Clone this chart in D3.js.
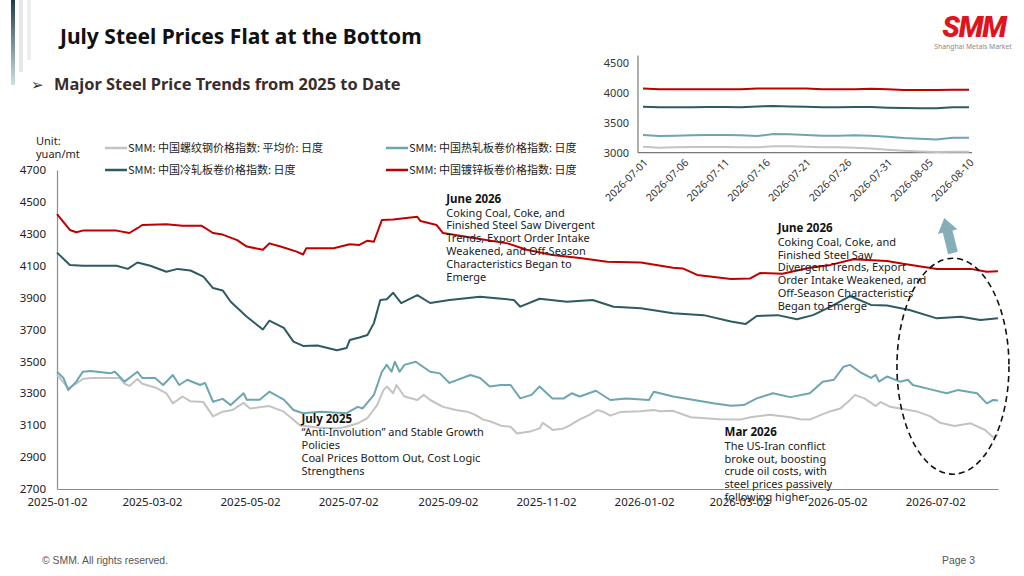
<!DOCTYPE html>
<html>
<head>
<meta charset="utf-8">
<script src="https://cdn.jsdelivr.net/npm/d3@7"></script>
<style>
  body { margin: 0; background: #fff; }
  svg { display: block; font-family: "Noto Sans", "Noto Sans CJK SC", sans-serif; }
</style>
</head>
<body>
<svg id="chart" width="1024" height="576"></svg>
<script>
// ---- data (days counted from 2025-01-02) ----
const seriesNames = [
  'SMM: 中国螺纹钢价格指数: 平均价: 日度',
  'SMM: 中国热轧板卷价格指数: 日度',
  'SMM: 中国冷轧板卷价格指数: 日度',
  'SMM: 中国镀锌板卷价格指数: 日度'
];

const rebar = [[0,3415],[7,3333],[12,3360],[16,3390],[21,3396],[39,3396],[42,3360],[45,3346],[50,3390],[53,3360],[62,3333],[68,3300],[72,3237],[78,3280],[83,3250],[91,3245],[97,3155],[103,3185],[109,3195],[116,3240],[120,3205],[128,3215],[132,3220],[141,3185],[151,3100],[162,3085],[174,3080],[180,3090],[187,3112],[193,3145],[199,3226],[203,3320],[205,3343],[209,3300],[211,3352],[216,3280],[224,3258],[228,3290],[232,3258],[240,3215],[248,3195],[255,3185],[260,3165],[265,3135],[269,3125],[276,3097],[282,3090],[286,3048],[294,3060],[300,3080],[302,3115],[307,3080],[308,3070],[315,3080],[319,3100],[325,3137],[331,3165],[336,3195],[340,3182],[344,3160],[350,3182],[363,3188],[371,3195],[375,3188],[383,3190],[394,3150],[412,3137],[425,3135],[431,3150],[443,3165],[456,3150],[462,3137],[468,3135],[475,3165],[481,3188],[487,3205],[493,3258],[496,3290],[502,3268],[509,3220],[512,3245],[518,3215],[524,3205],[534,3188],[543,3155],[549,3115],[558,3095],[568,3112],[577,3070],[582,3025],[585,3040]];

const hrc = [[0,3435],[4,3396],[7,3320],[12,3373],[16,3435],[21,3440],[33,3425],[36,3435],[42,3373],[50,3435],[53,3396],[61,3396],[66,3352],[72,3415],[76,3352],[81,3385],[89,3352],[92,3365],[97,3247],[103,3265],[108,3226],[116,3300],[118,3260],[126,3260],[132,3310],[141,3260],[147,3195],[153,3175],[164,3185],[180,3175],[187,3215],[190,3205],[197,3290],[202,3435],[205,3478],[208,3435],[210,3498],[213,3435],[216,3478],[223,3498],[232,3435],[238,3425],[244,3365],[257,3415],[263,3396],[269,3343],[276,3352],[282,3352],[288,3268],[295,3290],[300,3343],[308,3268],[315,3268],[320,3300],[325,3280],[335,3316],[344,3258],[354,3268],[368,3258],[371,3310],[383,3280],[396,3258],[408,3237],[419,3222],[427,3226],[435,3268],[445,3300],[456,3276],[468,3300],[476,3373],[483,3385],[489,3467],[493,3478],[499,3435],[506,3396],[509,3415],[511,3373],[516,3405],[524,3373],[529,3385],[532,3352],[545,3320],[553,3300],[560,3320],[572,3300],[578,3237],[582,3258],[585,3255]];

const crc = [[0,4182],[8,4105],[16,4100],[37,4100],[44,4080],[50,4120],[58,4100],[68,4062],[75,4080],[83,4070],[91,4032],[97,3960],[103,3945],[108,3874],[118,3780],[128,3700],[132,3755],[141,3710],[147,3624],[153,3597],[162,3600],[174,3570],[180,3584],[182,3634],[188,3650],[193,3665],[197,3740],[201,3885],[205,3890],[209,3930],[214,3866],[224,3916],[232,3866],[244,3885],[263,3906],[284,3885],[288,3843],[300,3893],[317,3874],[333,3885],[346,3843],[363,3833],[383,3802],[402,3790],[419,3750],[428,3734],[435,3785],[448,3790],[460,3764],[470,3790],[481,3843],[493,3910],[506,3854],[516,3850],[530,3822],[547,3770],[562,3780],[574,3760],[585,3770]];

const galv = [[0,4424],[8,4324],[12,4310],[16,4320],[37,4320],[45,4305],[50,4335],[53,4355],[68,4360],[78,4350],[90,4350],[97,4305],[103,4295],[112,4260],[118,4220],[128,4200],[132,4240],[139,4220],[149,4188],[153,4170],[155,4210],[172,4210],[182,4235],[188,4230],[193,4257],[197,4250],[199,4305],[202,4387],[209,4390],[224,4407],[226,4380],[236,4355],[240,4305],[259,4273],[280,4240],[292,4200],[308,4167],[325,4148],[342,4125],[363,4120],[383,4087],[389,4083],[398,4042],[419,4017],[431,4020],[437,4054],[451,4050],[468,4087],[481,4105],[495,4140],[516,4130],[526,4112],[547,4080],[568,4080],[578,4062],[585,4065]];

const yTicks = [2700, 2900, 3100, 3300, 3500, 3700, 3900, 4100, 4300, 4500, 4700];
const xTickLabels = ['2025-01-02','2025-03-02','2025-05-02','2025-07-02','2025-09-02','2025-11-02','2026-01-02','2026-03-02','2026-05-02','2026-07-02'];

// inset: July-August 2026
const insetDates = ['2026-07-01','2026-07-03','2026-07-05','2026-07-07','2026-07-09','2026-07-11','2026-07-13','2026-07-15','2026-07-17','2026-07-19','2026-07-21','2026-07-23','2026-07-25','2026-07-27','2026-07-29','2026-07-31','2026-08-02','2026-08-04','2026-08-06','2026-08-08','2026-08-10'];
const rebarIn = [3100,3083,3089,3094,3094,3094,3089,3089,3106,3106,3100,3089,3089,3083,3072,3050,3033,3022,3011,3017,3017];
const hrcIn   = [3294,3278,3283,3289,3294,3294,3289,3278,3311,3306,3294,3283,3283,3289,3283,3267,3244,3233,3222,3250,3250];
const crcIn   = [3767,3756,3756,3756,3761,3761,3756,3772,3778,3772,3767,3756,3756,3761,3761,3750,3744,3739,3739,3756,3756];
const galvIn  = [4072,4056,4056,4056,4056,4056,4056,4072,4072,4072,4072,4056,4056,4056,4067,4056,4044,4044,4044,4050,4050];
const insetYTicks = [3000, 3500, 4000, 4500];
const insetXTicks = ['2026-07-01','2026-07-06','2026-07-11','2026-07-16','2026-07-21','2026-07-26','2026-07-31','2026-08-05','2026-08-10'];

const notes = [
  { date: '2025-06-03', value: 3115, title: 'July 2025', lines: ['“Anti-Involution” and Stable Growth', 'Policies', 'Coal Prices Bottom Out, Cost Logic', 'Strengthens'] },
  { date: '2025-09-01', value: 4492, title: 'June 2026', lines: ['Coking Coal, Coke, and', 'Finished Steel Saw Divergent', 'Trends, Export Order Intake', 'Weakened, and Off-Season', 'Characteristics Began to', 'Emerge'] },
  { date: '2026-03-26', value: 4310, title: 'June 2026', lines: ['Coking Coal, Coke, and', 'Finished Steel Saw', 'Divergent Trends, Export', 'Order Intake Weakened, and', 'Off-Season Characteristics', 'Began to Emerge'] },
  { date: '2026-02-21', value: 3030, title: 'Mar 2026', lines: ['The US-Iran conflict', 'broke out, boosting', 'crude oil costs, with', 'steel prices passively', 'following higher'] }
];

const colors = ['#c3c3c3', '#6da5b1', '#2e5a62', '#c00000'];

// ---- setup ----
const svg = d3.select('#chart');
const parse = d3.timeParse('%Y-%m-%d');
const start = parse('2025-01-02');
const toPoints = arr => arr.map(d => ({ date: d3.timeDay.offset(start, d[0]), value: d[1] }));
const mainSeries = [rebar, hrc, crc, galv].map(toPoints);

// decorative bars top-left
const grad = svg.append('defs').append('linearGradient')
  .attr('id', 'barGrad').attr('x1', 0).attr('y1', 0).attr('x2', 0).attr('y2', 1);
grad.append('stop').attr('offset', '0%').attr('stop-color', '#1f3f47');
grad.append('stop').attr('offset', '100%').attr('stop-color', '#cfe0e4');
svg.append('rect').attr('x', 11).attr('y', 0).attr('width', 4).attr('height', 85).attr('fill', 'url(#barGrad)');
svg.append('rect').attr('x', 19).attr('y', 0).attr('width', 4).attr('height', 72).attr('fill', '#e6e6e6');
svg.append('rect').attr('x', 27).attr('y', 0).attr('width', 4).attr('height', 60).attr('fill', '#eeeeee');

// titles
svg.append('text')
  .attr('x', 60).attr('y', 44)
  .attr('font-size', 21).attr('font-weight', 700).attr('fill', '#111')
  .text('July Steel Prices Flat at the Bottom');

svg.append('text')
  .attr('x', 31).attr('y', 90)
  .attr('font-size', 15).attr('fill', '#333')
  .attr('font-family', '"DejaVu Sans", sans-serif')
  .text('➢');
svg.append('text')
  .attr('x', 54).attr('y', 90)
  .attr('font-size', 16.4).attr('font-weight', 700).attr('fill', '#3a2c2c')
  .text('Major Steel Price Trends from 2025 to Date');

// logo
svg.append('text')
  .attr('x', 974).attr('y', 37)
  .attr('text-anchor', 'middle')
  .attr('font-size', 29).attr('font-weight', 900).attr('font-style', 'italic')
  .attr('letter-spacing', -1.2)
  .attr('fill', '#e0141e')
  .attr('font-family', 'Roboto, "Noto Sans", sans-serif')
  .text('SMM');
svg.append('text')
  .attr('x', 973).attr('y', 49)
  .attr('text-anchor', 'middle')
  .attr('font-size', 6.8).attr('fill', '#888')
  .text('Shanghai Metals Market');

// ---- main chart ----
const x = d3.scaleTime()
  .domain([start, d3.timeDay.offset(start, 585)])
  .range([57, 998]);
const y = d3.scaleLinear()
  .domain([2700, 4700])
  .range([489, 170]);

const yAxis = svg.append('g')
  .attr('transform', `translate(${x.range()[0]},0)`)
  .call(d3.axisLeft(y).tickValues(yTicks).tickSize(0).tickPadding(11).tickFormat(d3.format('d')));
yAxis.select('.domain').attr('stroke', '#8c8c8c').attr('stroke-width', 1.2);
yAxis.selectAll('text').attr('font-size', 11.5).attr('fill', '#222').attr('font-family', '"Noto Sans", sans-serif');

const xAxis = svg.append('g')
  .attr('transform', `translate(0,${y.range()[0]})`)
  .call(d3.axisBottom(x).tickValues(xTickLabels.map(parse)).tickSize(0).tickPadding(9).tickFormat(d3.timeFormat('%Y-%m-%d')));
xAxis.select('.domain').attr('stroke', '#8c8c8c').attr('stroke-width', 1.2);
xAxis.selectAll('text').attr('font-size', 11.5).attr('fill', '#222').attr('font-family', '"Noto Sans", sans-serif');

const line = d3.line()
  .x(d => x(d.date))
  .y(d => y(d.value));

svg.append('g').selectAll('path')
  .data(mainSeries)
  .enter()
  .append('path')
  .attr('fill', 'none')
  .attr('stroke', (d, i) => colors[i])
  .attr('stroke-width', 2)
  .attr('stroke-linejoin', 'round')
  .attr('d', line);

// unit
svg.append('text').attr('x', 36).attr('y', 145).attr('font-size', 11).attr('fill', '#222').text('Unit:');
svg.append('text').attr('x', 36).attr('y', 158).attr('font-size', 11).attr('fill', '#222').text('yuan/mt');

// legend
const legendPos = [[105, 148], [386, 148], [105, 170], [386, 170]];
const legend = svg.append('g').selectAll('g')
  .data(seriesNames)
  .enter()
  .append('g')
  .attr('transform', (d, i) => `translate(${legendPos[i][0]},${legendPos[i][1]})`);
legend.append('line')
  .attr('x1', 0).attr('x2', 22).attr('y1', 0).attr('y2', 0)
  .attr('stroke', (d, i) => colors[i]).attr('stroke-width', 2.5);
legend.append('text')
  .attr('x', 23).attr('y', 4)
  .attr('font-size', 11).attr('fill', '#222')
  .attr('font-family', '"Noto Sans CJK SC", sans-serif')
  .text(d => d);

// dashed ellipse highlighting July-August 2026
svg.append('ellipse')
  .attr('cx', x(parse('2026-07-13'))).attr('cy', y(3470))
  .attr('rx', 56).attr('ry', 108)
  .attr('fill', 'none').attr('stroke', '#111')
  .attr('stroke-width', 1.6).attr('stroke-dasharray', '6,4');

// arrow pointing toward inset
svg.append('path')
  .attr('transform', `translate(${x(parse('2026-07-13'))},${y(4180)}) rotate(-14)`)
  .attr('d', 'M-5,0 L-5,-22 L-10,-22 L0,-36 L10,-22 L5,-22 L5,0 Z')
  .attr('fill', '#86aeb8');

// annotations
const noteG = svg.append('g').selectAll('g')
  .data(notes)
  .enter()
  .append('g')
  .attr('transform', d => `translate(${x(parse(d.date))},${y(d.value)})`);
noteG.append('text')
  .attr('font-size', 11.5).attr('font-weight', 700).attr('fill', '#111')
  .text(d => d.title);
noteG.each(function (d) {
  d3.select(this).selectAll('text.l')
    .data(d.lines)
    .enter()
    .append('text')
    .attr('class', 'l')
    .attr('y', (t, i) => 13.5 + i * 12.8)
    .attr('font-size', 11).attr('fill', '#222')
    .text(t => t);
});

// ---- inset ----
const xi = d3.scaleTime()
  .domain([parse('2026-07-01'), parse('2026-08-10')])
  .range([643, 969]);
const yi = d3.scaleLinear()
  .domain([3000, 4500])
  .range([152.7, 62.7]);

const inset = svg.append('g');
inset.append('line')
  .attr('x1', xi.range()[0] - 5).attr('x2', xi.range()[0] - 5)
  .attr('y1', yi(4620)).attr('y2', yi(3000))
  .attr('stroke', '#777').attr('stroke-width', 1.2);
inset.append('line')
  .attr('x1', xi.range()[0] - 5).attr('x2', xi.range()[1] + 3)
  .attr('y1', yi(3000)).attr('y2', yi(3000))
  .attr('stroke', '#777').attr('stroke-width', 1.2);

inset.selectAll('.iy')
  .data(insetYTicks)
  .enter()
  .append('text')
  .attr('x', xi.range()[0] - 14)
  .attr('y', d => yi(d) + 4)
  .attr('text-anchor', 'end')
  .attr('font-size', 11).attr('fill', '#333')
  .text(d => d);

inset.selectAll('.ix')
  .data(insetXTicks)
  .enter()
  .append('text')
  .attr('transform', d => `translate(${xi(parse(d)) + 3},${yi(3000) + 8}) rotate(-45)`)
  .attr('text-anchor', 'end')
  .attr('dy', '0.35em')
  .attr('font-size', 10.5).attr('fill', '#333')
  .text(d => d);

const insetSeries = [rebarIn, hrcIn, crcIn, galvIn]
  .map(vals => vals.map((v, i) => ({ date: parse(insetDates[i]), value: v })));

const lineIn = d3.line()
  .x(d => xi(d.date))
  .y(d => yi(d.value));

inset.selectAll('.il')
  .data(insetSeries)
  .enter()
  .append('path')
  .attr('fill', 'none')
  .attr('stroke', (d, i) => colors[i])
  .attr('stroke-width', 2)
  .attr('d', lineIn);

// footer
svg.append('text')
  .attr('x', 42).attr('y', 564)
  .attr('font-size', 10.4).attr('fill', '#555')
  .attr('font-family', '"Liberation Sans Narrow", "Liberation Sans", sans-serif')
  .text('© SMM. All rights reserved.');
svg.append('text')
  .attr('x', 975).attr('y', 564)
  .attr('text-anchor', 'end')
  .attr('font-size', 10.4).attr('fill', '#555')
  .attr('font-family', '"Liberation Sans Narrow", "Liberation Sans", sans-serif')
  .text('Page 3');
</script>
</body>
</html>
